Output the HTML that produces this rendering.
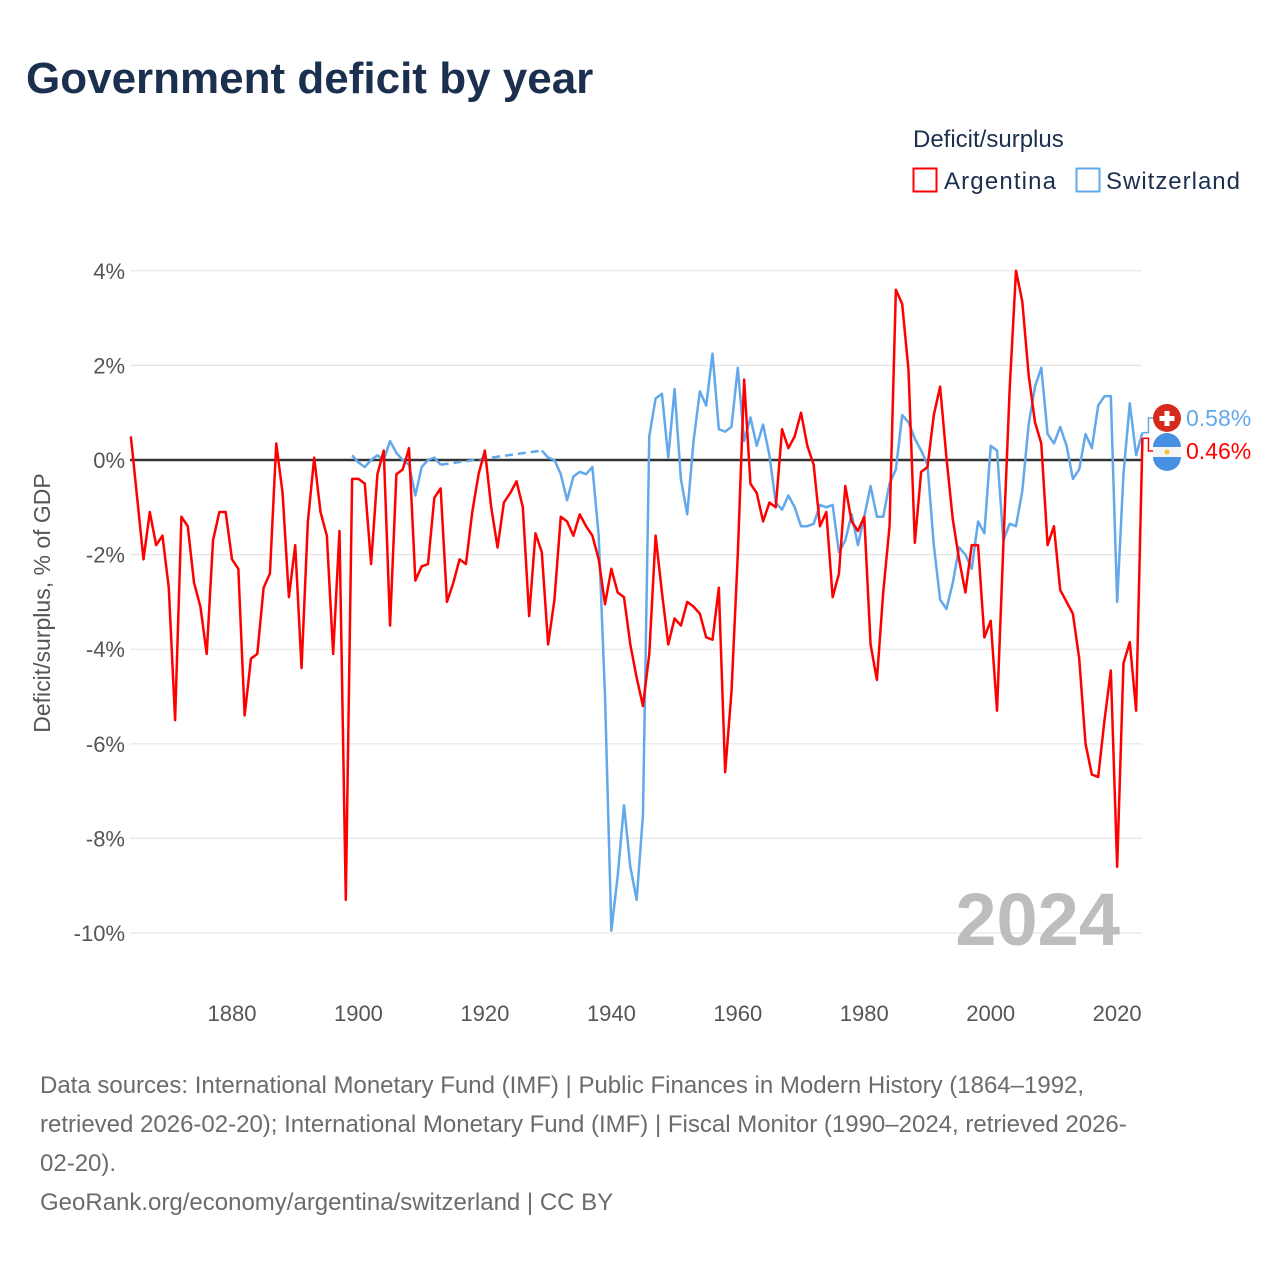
<!DOCTYPE html>
<html><head><meta charset="utf-8"><style>
body{margin:0;background:#fff;width:1280px;height:1280px;overflow:hidden;font-family:"Liberation Sans",sans-serif}
svg text{font-family:"Liberation Sans",sans-serif}
</style></head><body>
<svg id="chart" width="1280" height="1280">
<text x="26" y="93" font-size="44" font-weight="bold" fill="#1b2f4e">Government deficit by year</text>
<g>
<text x="913" y="147" font-size="24" fill="#1b2f4e">Deficit/surplus</text>
<rect x="913.5" y="168.5" width="23" height="23" fill="none" stroke="#ff0000" stroke-width="2"/>
<text x="944" y="189" font-size="24" fill="#1b2f4e" textLength="112">Argentina</text>
<rect x="1076.5" y="168.5" width="23" height="23" fill="none" stroke="#62a8ea" stroke-width="2"/>
<text x="1106" y="189" font-size="24" fill="#1b2f4e" textLength="134">Switzerland</text>
</g>
<g id="grid"></g>
<g id="axes"></g>
<text x="1120" y="945" font-size="74" font-weight="bold" fill="#bdbdbd" text-anchor="end">2024</text>
<g id="series"></g>
<text transform="translate(50,603) rotate(-90)" font-size="23" fill="#555" text-anchor="middle">Deficit/surplus, % of GDP</text>
<g font-size="24" fill="#6b6b6b">
<text x="40" y="1093">Data sources: International Monetary Fund (IMF) | Public Finances in Modern History (1864–1992,</text>
<text x="40" y="1132">retrieved 2026-02-20); International Monetary Fund (IMF) | Fiscal Monitor (1990–2024, retrieved 2026-</text>
<text x="40" y="1171">02-20).</text>
<text x="40" y="1210">GeoRank.org/economy/argentina/switzerland | CC BY</text>
</g>
</svg>
<script>
const yTicks=[4,2,0,-2,-4,-6,-8,-10];
const xTicks=[1880,1900,1920,1940,1960,1980,2000,2020];
const argStart=1864;
const argentina=[0.5,-0.8,-2.1,-1.1,-1.8,-1.6,-2.7,-5.5,-1.2,-1.4,-2.6,-3.1,-4.1,-1.7,-1.1,-1.1,-2.1,-2.3,-5.4,-4.2,-4.1,-2.7,-2.4,0.35,-0.7,-2.9,-1.8,-4.4,-1.3,0.05,-1.1,-1.6,-4.1,-1.5,-9.3,-0.4,-0.4,-0.5,-2.2,-0.3,0.2,-3.5,-0.3,-0.2,0.25,-2.55,-2.25,-2.2,-0.8,-0.6,-3.0,-2.6,-2.1,-2.2,-1.1,-0.3,0.2,-1.0,-1.85,-0.9,-0.7,-0.45,-1.0,-3.3,-1.55,-1.95,-3.9,-2.95,-1.2,-1.3,-1.6,-1.15,-1.4,-1.6,-2.1,-3.05,-2.3,-2.8,-2.9,-3.9,-4.6,-5.2,-4.1,-1.6,-2.8,-3.9,-3.35,-3.5,-3.0,-3.1,-3.25,-3.75,-3.8,-2.7,-6.6,-4.9,-2.0,1.7,-0.5,-0.7,-1.3,-0.9,-1.0,0.65,0.25,0.5,1.0,0.3,-0.1,-1.4,-1.1,-2.9,-2.4,-0.55,-1.3,-1.5,-1.2,-3.9,-4.65,-2.8,-1.4,3.6,3.3,1.9,-1.75,-0.25,-0.15,0.95,1.55,0.05,-1.25,-2.1,-2.8,-1.8,-1.8,-3.75,-3.4,-5.3,-1.8,1.5,4.0,3.35,1.8,0.8,0.35,-1.8,-1.4,-2.75,-3.0,-3.25,-4.2,-6.0,-6.65,-6.7,-5.5,-4.45,-8.6,-4.3,-3.85,-5.3,0.46];
const swiStart=1899;
const switzerland=[0.1,-0.05,-0.15,0.0,0.1,0.0,0.4,0.15,0.0,-0.1,-0.75,-0.15,0.0,0.05,-0.1,null,null,null,null,null,null,null,null,null,null,null,null,null,null,null,0.2,0.05,0.0,-0.3,-0.85,-0.35,-0.25,-0.3,-0.15,-1.6,-5.0,-9.95,-8.8,-7.3,-8.6,-9.3,-7.5,0.5,1.3,1.4,0.05,1.5,-0.4,-1.15,0.4,1.45,1.15,2.25,0.65,0.6,0.7,1.95,0.4,0.9,0.3,0.75,0.1,-0.9,-1.05,-0.75,-1.0,-1.4,-1.4,-1.35,-0.95,-1.0,-0.95,-1.95,-1.7,-1.15,-1.8,-1.2,-0.55,-1.2,-1.2,-0.5,-0.2,0.95,0.8,0.45,0.2,-0.1,-1.8,-2.95,-3.15,-2.6,-1.85,-2.0,-2.3,-1.3,-1.55,0.3,0.2,-1.7,-1.35,-1.4,-0.65,0.75,1.55,1.95,0.55,0.35,0.7,0.3,-0.4,-0.2,0.55,0.25,1.15,1.35,1.35,-3.0,-0.3,1.2,0.1,0.58];

const NS="http://www.w3.org/2000/svg";
const X=y=>232+(y-1880)*6.3225;
const Y=v=>460-v*47.3;
function mk(tag,attrs,parent){const e=document.createElementNS(NS,tag);for(const k in attrs)e.setAttribute(k,attrs[k]);parent.appendChild(e);return e;}
const grid=document.getElementById('grid'),axes=document.getElementById('axes'),ser=document.getElementById('series');
yTicks.forEach(t=>{
  const l=mk('line',{x1:130,x2:1142,y1:Y(t),y2:Y(t),stroke:t===0?'#333':'#e6e6e6','stroke-width':t===0?2.5:1.2},t===0?axes:grid);
  
  
  const tx=mk('text',{x:125,y:Y(t)+8,'font-size':22,fill:'#555','text-anchor':'end'},axes);
  tx.textContent=t+'%';
  
  
});
xTicks.forEach(t=>{
  const tx=mk('text',{x:X(t),y:1021,'font-size':22,fill:'#555','text-anchor':'middle'},axes);
  tx.textContent=t;
  
  
});
function draw(vals,start,color,name){
  let segs=[],cur=[];
  vals.forEach((v,i)=>{if(v===null){if(cur.length)segs.push(cur);cur=[];}else cur.push([X(start+i),Y(v)]);});
  if(cur.length)segs.push(cur);
  for(let i=0;i+1<segs.length;i++){
    const a=segs[i][segs[i].length-1],b=segs[i+1][0];
    const d=mk('line',{x1:a[0],y1:a[1],x2:b[0],y2:b[1],stroke:color,'stroke-width':2.5,'stroke-dasharray':'8,5'},ser);
    
    
  }
  segs.forEach(s=>{
    const p=mk('polyline',{points:s.map(q=>q.join(',')).join(' '),fill:'none',stroke:color,'stroke-width':2.5,'stroke-linejoin':'round'},ser);
    
    
  });
}
draw(switzerland,swiStart,'#62a8ea','switzerland');
draw(argentina,argStart,'#ff0000','argentina');
const sv=switzerland[switzerland.length-1],av=argentina[argentina.length-1];
const ex=X(2024);
const c1=mk('polyline',{points:`${ex},${Y(sv)} ${ex+6},${Y(sv)} ${ex+6},418 ${ex+12},418`,fill:'none',stroke:'#62a8ea','stroke-width':1.5},ser);

const c2=mk('polyline',{points:`${ex},${Y(av)} ${ex+6},${Y(av)} ${ex+6},451 ${ex+12},451`,fill:'none',stroke:'#ff0000','stroke-width':1.5},ser);

const f1=mk('circle',{cx:1167,cy:418,r:14,fill:'#d52b1e'},ser);

const cr1=mk('path',{d:'M1164.5 411h5v5h5v5h-5v5h-5v-5h-5v-5h5z',fill:'#fff'},ser);

const f2=mk('circle',{cx:1167,cy:452,r:14,fill:'#f4f4f4'},ser);

const f2a=mk('path',{d:'M1153 447a14 14 0 0 1 28 0z',fill:'#4a90e2'},ser);

const f2b=mk('path',{d:'M1153 457a14 14 0 0 0 28 0z',fill:'#4a90e2'},ser);

const f2c=mk('circle',{cx:1167,cy:452,r:2.5,fill:'#f2c230'},ser);

const l1=mk('text',{x:1186,y:426,'font-size':23,fill:'#62a8ea'},ser);
l1.textContent=sv.toFixed(2)+'%';

const l2=mk('text',{x:1186,y:459,'font-size':23,fill:'#ff0000'},ser);
l2.textContent=av.toFixed(2)+'%';

</script>
</body></html>
